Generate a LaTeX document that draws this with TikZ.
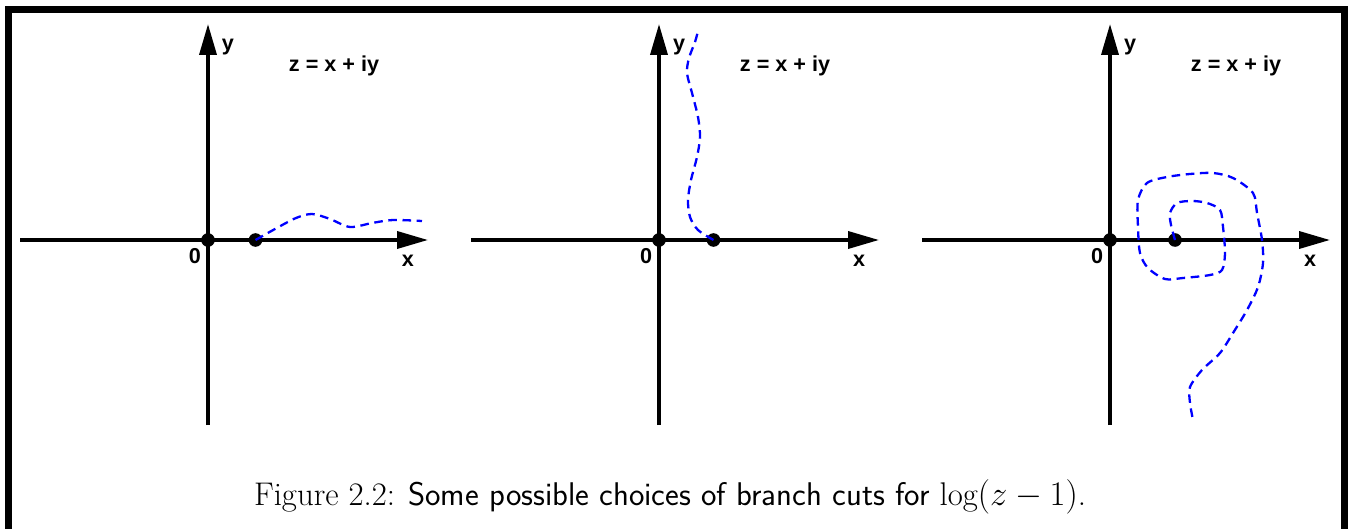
\documentclass[tikz,border=0pt]{standalone}
\usepackage{fontspec}
\newfontfamily\axisfont{Liberation Sans}
\usetikzlibrary{arrows.meta}

\begin{document}
\begin{tikzpicture}[x=0.5pt, y=-0.5pt,
  axis/.style={line width=1.8pt, -{Triangle[length=15.5pt, width=8.5pt]}},
  dot/.style={circle, fill=black, inner sep=0pt, minimum size=6.8pt},
  lbl/.style={font=\axisfont\bfseries\fontsize{10.8}{12}\selectfont, inner sep=0pt},
  cut/.style={draw=blue, line width=1.15pt, dash pattern=on 4.3pt off 2.8pt},
]
\useasboundingbox (0,0) rectangle (1348,529);

%% -- Frame (open at the bottom) ---------------------------------------------
\coordinate (fbl) at (8.5,529);
\coordinate (ftl) at (8.5,10);
\coordinate (ftr) at (1344.5,10);
\coordinate (fbr) at (1344.5,529);
\draw[line width=3.5pt] (fbl) -- (ftl) -- (ftr) -- (fbr);

%% -- Panel 1: cut along the real axis ---------------------------------------
\def\ox{0}
\coordinate (xl1) at ({\ox+20},240);
\coordinate (xr1) at ({\ox+428},240);
\coordinate (yb1) at ({\ox+208},425);
\coordinate (yt1) at ({\ox+208},24);
\draw[axis] (xl1) -- (xr1);
\draw[axis] (yb1) -- (yt1);
\node[dot] (o1) at ({\ox+208},240) {};
\node[dot] (p1) at ({\ox+255.5},240) {};
\draw[cut] plot[smooth] coordinates {(p1.center) (275,229) (296,218) (312,214)
  (330,219) (350,227) (372,223) (393,220) (422,221)};
\node[lbl] (zero1) at ({\ox+195},256) {0};
\node[lbl] (xlab1) at ({\ox+408},261) {x};
\node[lbl] (ylab1) at ({\ox+228},47) {y};
\node[lbl] (eq1)   at ({\ox+334},66) {z = x + iy};

%% -- Panel 2: cut going upwards ---------------------------------------------
\def\ox{451}
\coordinate (xl2) at ({\ox+20},240);
\coordinate (xr2) at ({\ox+428},240);
\coordinate (yb2) at ({\ox+208},425);
\coordinate (yt2) at ({\ox+208},24);
\draw[axis] (xl2) -- (xr2);
\draw[axis] (yb2) -- (yt2);
\node[dot] (o2) at ({\ox+208},240) {};
\node[dot] (p2) at ({\ox+262.5},240) {};
\draw[cut] plot[smooth] coordinates {(p2.center) (698,230) (690,217) (688,200)
  (691,180) (697,157) (700,137) (698,117) (692,93) (687,73) (689,58)
  (695,42) (698,31)};
\node[lbl] (zero2) at ({\ox+195},256) {0};
\node[lbl] (xlab2) at ({\ox+408},261) {x};
\node[lbl] (ylab2) at ({\ox+228},47) {y};
\node[lbl] (eq2)   at ({\ox+334},66) {z = x + iy};

%% -- Panel 3: spiralling cut ------------------------------------------------
\def\ox{902}
\coordinate (xl3) at ({\ox+20},240);
\coordinate (xr3) at ({\ox+428},240);
\coordinate (yb3) at ({\ox+208},425);
\coordinate (yt3) at ({\ox+208},24);
\draw[axis] (xl3) -- (xr3);
\draw[axis] (yb3) -- (yt3);
\node[dot] (o3) at ({\ox+208},240) {};
\node[dot] (p3) at ({\ox+273},240) {};
\draw[cut] plot[smooth] coordinates {(p3.center) (1171,225) (1170,213)
  (1177,203) (1192,201) (1207,203) (1220,210) (1223,227) (1225,253)
  (1222,270) (1210,275) (1183,278) (1165,279) (1148,268) (1140,253)
  (1138,227) (1138,200) (1147,183) (1167,177) (1190,174) (1213,173)
  (1233,178) (1253,193) (1257,213) (1262,240) (1263,263) (1258,287)
  (1247,310) (1233,333) (1220,353) (1202,370) (1190,387) (1190,403)
  (1193,420)};
\node[lbl] (zero3) at ({\ox+195},256) {0};
\node[lbl] (xlab3) at ({\ox+408},261) {x};
\node[lbl] (ylab3) at ({\ox+228},47) {y};
\node[lbl] (eq3)   at ({\ox+334},66) {z = x + iy};

%% -- Caption ----------------------------------------------------------------
\node[font=\fontsize{16.4}{19}\selectfont, inner sep=0pt] (caption) at (670,497)
  {Figure 2.2: {\sffamily Some possible choices of branch cuts for} $\log(z-1)$.};

\end{tikzpicture}
\end{document}
